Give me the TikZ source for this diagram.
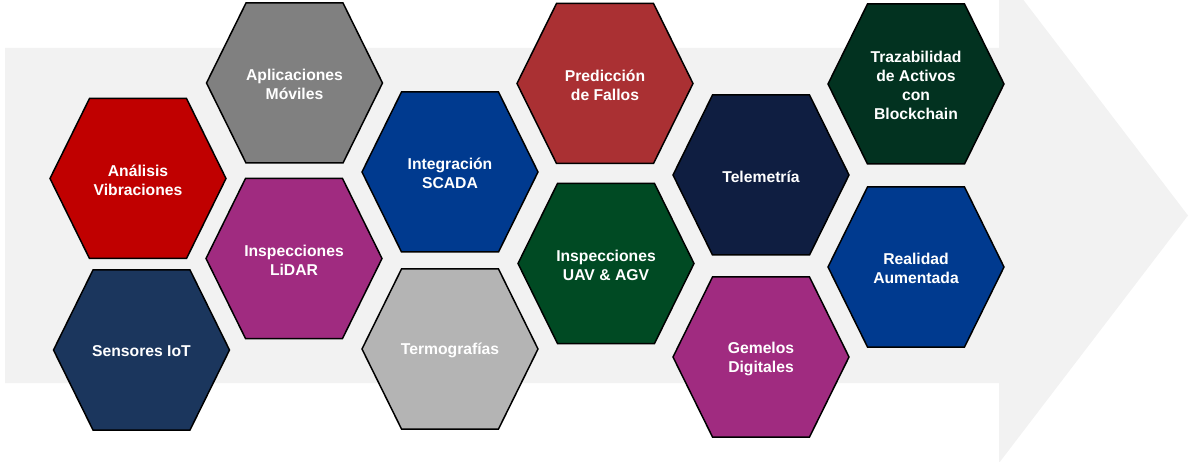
\documentclass[tikz,border=0pt]{standalone}
\usepackage{fontspec}
\setmainfont{Liberation Sans}
\definecolor{bgarrow}{HTML}{F2F2F2}
\definecolor{cRed}{HTML}{C00000}
\definecolor{cNavy}{HTML}{1B365D}
\definecolor{cGray}{HTML}{808080}
\definecolor{cMagenta}{HTML}{A02B80}
\definecolor{cBlue}{HTML}{003A8F}
\definecolor{cLightGray}{HTML}{B4B4B4}
\definecolor{cBrick}{HTML}{AA3033}
\definecolor{cGreen}{HTML}{004A23}
\definecolor{cMidnight}{HTML}{0F1E41}
\definecolor{cForest}{HTML}{023220}
\tikzset{
  hexshape/.style={draw=black, line width=1.5pt, line join=miter},
  hexlabel/.style={text=white, font=\bfseries\fontsize{15.7}{19}\selectfont, align=center, inner sep=0pt, yshift=-1.5pt},
}
\newcommand{\hexcell}[5]{%
  \begin{scope}[shift={(#2,#3)}]
    \filldraw[hexshape, fill=#4] (-88,0) -- (-48.5,-80) -- (48.5,-80) -- (88,0) -- (48.5,80) -- (-48.5,80) -- cycle;
    \node[hexlabel] (#1) at (0,0) {#5};
  \end{scope}%
}
\begin{document}
\begin{tikzpicture}[x=1pt,y=-1pt]
  \useasboundingbox (0,0) rectangle (1196,462);
  \clip (0,0) rectangle (1196,462);
  \fill[bgarrow] (5,48) -- (999,48) -- (999,-32) -- (1188,215.5) -- (999,463) -- (999,383) -- (5,383) -- cycle;
  \hexcell{analisis}{138}{178.5}{cRed}{Análisis\\Vibraciones}
  \hexcell{sensores}{141.5}{350}{cNavy}{Sensores IoT}
  \hexcell{apps}{294.5}{83}{cGray}{Aplicaciones\\Móviles}
  \hexcell{lidar}{294}{258.5}{cMagenta}{Inspecciones\\LiDAR}
  \hexcell{scada}{450}{172}{cBlue}{Integración\\SCADA}
  \hexcell{termo}{450}{349}{cLightGray}{Termografías}
  \hexcell{fallos}{605}{83.5}{cBrick}{Predicción\\de Fallos}
  \hexcell{uav}{606}{263.5}{cGreen}{Inspecciones\\UAV \& AGV}
  \hexcell{tele}{761}{175}{cMidnight}{Telemetría}
  \hexcell{gemelos}{761}{357}{cMagenta}{Gemelos\\Digitales}
  \hexcell{traza}{916}{84}{cForest}{Trazabilidad\\de Activos\\con\\Blockchain}
  \hexcell{realidad}{916}{267}{cBlue}{Realidad\\Aumentada}
\end{tikzpicture}
\end{document}
